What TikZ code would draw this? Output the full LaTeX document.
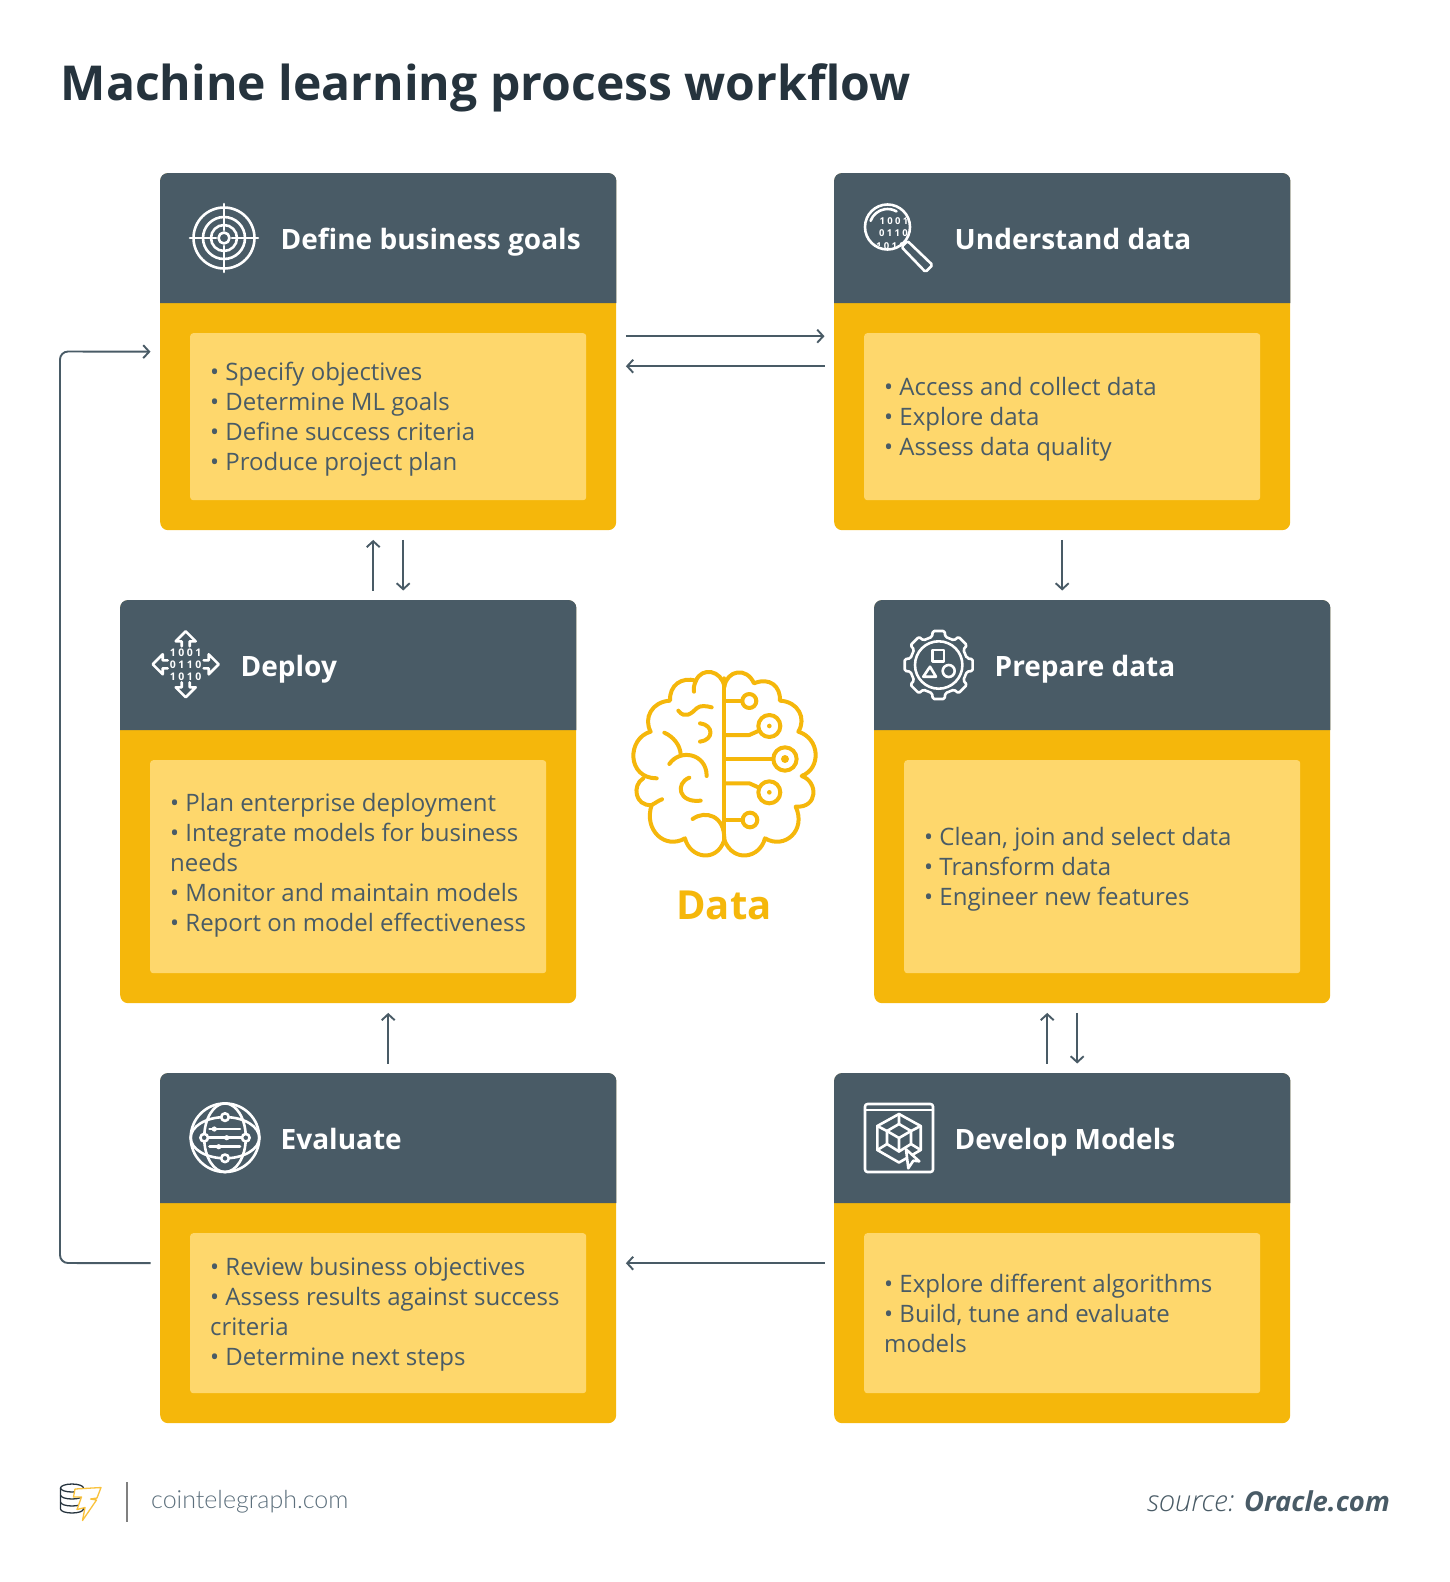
\documentclass[tikz,border=0pt]{standalone}
\usepackage{fontspec}
\usepackage{xcolor}
\usetikzlibrary{arrows.meta}
\setmainfont{Open Sans}
\newfontfamily\footfont{Lato Light}
\newfontfamily\sourcefont{Open Sans Light}
\newfontfamily\bitfont[LetterSpace=24]{Open Sans}
\definecolor{slate}{HTML}{495B66}
\definecolor{ink}{HTML}{25333D}
\definecolor{amber}{HTML}{F5B70B}
\definecolor{butter}{HTML}{FED76C}
\definecolor{foottext}{HTML}{5C6F7C}
\definecolor{boltyellow}{HTML}{F9C23C}
\tikzset{
    cardbox/.style={anchor=north west,fill=amber,rounded corners=8pt,inner sep=0pt,minimum width=456pt},
    headfill/.style={fill=slate,rounded corners=8pt},
    headtext/.style={anchor=base west,text=white,font=\fontsize{28}{34}\selectfont\bfseries,inner sep=0pt},
    panel/.style={anchor=north west,fill=butter,rounded corners=3pt,minimum width=396pt,inner sep=0pt},
    paneltext/.style={anchor=west,text=slate,align=left,inner sep=0pt,font=\fontsize{24}{30}\selectfont},
    flow/.style={draw=slate,line width=1.9pt,-{Straight Barb[length=6pt,width=13pt]},shorten >=9.5pt,shorten <=9.5pt},
    icon/.style={draw=white,line width=2.6pt,line cap=round,line join=round},
    brain/.style={draw=amber,line width=4pt,line cap=round,line join=round},
    bits/.style={text=white,inner sep=0pt,font=\fontsize{10.5}{10.5}\selectfont\bitfont\bfseries}
}
\begin{document}
\begin{tikzpicture}[x=1pt,y=-1pt]
    \useasboundingbox (0,0) rectangle (1450,1582);

    % Title
    \node[anchor=base west,text=ink,inner sep=0pt,font=\fontsize{48.1}{60}\selectfont\bfseries] (title) at (60.5,100) {Machine learning process workflow};

    % Cards
    \node[cardbox,minimum height=357pt] (goals) at (160,173) {};
    \node[cardbox,minimum height=357pt] (understand) at (834,173) {};
    \node[cardbox,minimum height=403pt] (deploy) at (120,600) {};
    \node[cardbox,minimum height=403pt] (prepare) at (874,600) {};
    \node[cardbox,minimum height=350pt] (evaluate) at (160,1073) {};
    \node[cardbox,minimum height=350pt] (develop) at (834,1073) {};

    % Card heads
    \fill[headfill] ([yshift=-130pt]goals.north west) -- (goals.north west) -- (goals.north east) [sharp corners] -- ([yshift=-130pt]goals.north east) -- cycle;
    \fill[headfill] ([yshift=-130pt]understand.north west) -- (understand.north west) -- (understand.north east) [sharp corners] -- ([yshift=-130pt]understand.north east) -- cycle;
    \fill[headfill] ([yshift=-130pt]deploy.north west) -- (deploy.north west) -- (deploy.north east) [sharp corners] -- ([yshift=-130pt]deploy.north east) -- cycle;
    \fill[headfill] ([yshift=-130pt]prepare.north west) -- (prepare.north west) -- (prepare.north east) [sharp corners] -- ([yshift=-130pt]prepare.north east) -- cycle;
    \fill[headfill] ([yshift=-130pt]evaluate.north west) -- (evaluate.north west) -- (evaluate.north east) [sharp corners] -- ([yshift=-130pt]evaluate.north east) -- cycle;
    \fill[headfill] ([yshift=-130pt]develop.north west) -- (develop.north west) -- (develop.north east) [sharp corners] -- ([yshift=-130pt]develop.north east) -- cycle;

    % Head labels
    \node[headtext] (goalshead) at (280.5,249) {Define business goals};
    \node[headtext] (understandhead) at (954.5,249) {Understand data};
    \node[headtext] (deployhead) at (240.5,676) {Deploy};
    \node[headtext] (preparehead) at (994.5,676) {Prepare data};
    \node[headtext] (evaluatehead) at (280.5,1149) {Evaluate};
    \node[headtext] (develophead) at (954.5,1149) {Develop Models};

    % Panels
    \node[panel,minimum height=167pt] (goalspanel) at (190,333) {};
    \node[panel,minimum height=167pt] (understandpanel) at (864,333) {};
    \node[panel,minimum height=213pt] (deploypanel) at (150,760) {};
    \node[panel,minimum height=213pt] (preparepanel) at (904,760) {};
    \node[panel,minimum height=160pt] (evaluatepanel) at (190,1233) {};
    \node[panel,minimum height=160pt] (developpanel) at (864,1233) {};

    % Panel texts
    \node[paneltext,xshift=20pt,yshift=-2pt] (goalstext) at (goalspanel.west) {• Specify objectives\\• Determine ML goals\\• Define success criteria\\• Produce project plan};
    \node[paneltext,xshift=20pt,yshift=-3pt] (understandtext) at (understandpanel.west) {• Access and collect data\\• Explore data\\• Assess data quality};
    \node[paneltext,xshift=20pt,yshift=1pt] (deploytext) at (deploypanel.west) {• Plan enterprise deployment\\• Integrate models for business\\needs\\• Monitor and maintain models\\• Report on model effectiveness};
    \node[paneltext,xshift=20pt,yshift=-3pt] (preparetext) at (preparepanel.west) {• Clean, join and select data\\• Transform data\\• Engineer new features};
    \node[paneltext,xshift=20pt,yshift=-1.5pt] (evaluatetext) at (evaluatepanel.west) {• Review business objectives\\• Assess results against success\\criteria\\• Determine next steps};
    \node[paneltext,xshift=20pt] (developtext) at (developpanel.west) {• Explore different algorithms\\• Build, tune and evaluate\\models};

    % Connectors
    \draw[flow] ([yshift=15.5pt]goals.east) -- ([yshift=15.5pt]goals.east -| understand.west);
    \draw[flow] ([yshift=-14.5pt]understand.west) -- ([yshift=-14.5pt]goals.east);
    \draw[flow] ([xshift=-15pt]goals.south |- deploy.north) -- ([xshift=-15pt]goals.south);
    \draw[flow] ([xshift=15pt]goals.south) -- ([xshift=15pt]goals.south |- deploy.north);
    \draw[flow] (understand.south) -- (understand.south |- prepare.north);
    \draw[flow] (evaluate.north) -- (evaluate.north |- deploy.south);
    \draw[flow] ([xshift=-15pt]develop.north) -- ([xshift=-15pt]develop.north |- prepare.south);
    \draw[flow] ([xshift=15pt]develop.north |- prepare.south) -- ([xshift=15pt]develop.north);
    \draw[flow] ([yshift=-15pt]develop.west) -- ([yshift=-15pt]evaluate.east);
    \coordinate (loopbottom) at (60,1263);
    \coordinate (looptop) at (60,351.5);
    \draw[flow,rounded corners=8pt] ([yshift=-15pt]evaluate.west) -- (loopbottom) -- (looptop) -- (goals.west);

    % Target icon
    \begin{scope}[shift={(224,238)}]
        \draw[icon] (0,0) circle (5.5) (0,0) circle (13) (0,0) circle (21) (0,0) circle (30.5);
        \foreach \a in {0,90,180,270}
            \draw[icon] (\a:8) -- (\a:34);
    \end{scope}

    % Magnifier icon
    \begin{scope}[shift={(887.5,227)}]
        \draw[icon] (0,0) circle (22.5);
        \draw[icon] (200:18) arc (200:300:18);
        \draw[icon,rounded corners=1.5pt] (14,20) -- (20,14) -- (45,38) -- (38,45) -- cycle;
        \clip (0,0) circle (20.5);
        \node[bits,font=\fontsize{9.5}{9.5}\selectfont\bitfont\bfseries] (lensbita) at (6.5,-6) {1001};
        \node[bits,font=\fontsize{9.5}{9.5}\selectfont\bitfont\bfseries] (lensbitb) at (6,6.3) {0110};
        \node[bits,font=\fontsize{9.5}{9.5}\selectfont\bitfont\bfseries] (lensbitc) at (3,18.7) {1010};
    \end{scope}

    % Deploy icon
    \begin{scope}[shift={(185.7,664.3)}]
        \node[bits] (deploybita) at (0,-12) {1001};
        \node[bits] (deploybitb) at (0,0) {0110};
        \node[bits] (deploybitc) at (0,12) {1010};
        \foreach \r in {0,90,180,270}
            \draw[icon,rotate=\r] (-4,-18) -- (-4,-23) -- (-10,-23) -- (0,-33) -- (10,-23) -- (4,-23) -- (4,-18);
    \end{scope}

    % Gear icon
    \begin{scope}[shift={(938.7,665)}]
        \draw[icon,rounded corners=1.5pt] (-13:29) foreach \a in {0,45,...,315} { -- (\a-13:29) -- (\a-10:34.5) -- (\a+10:34.5) -- (\a+13:29) } -- cycle;
        \draw[icon] (0,0) circle (23.7);
        \draw[icon] (-6.5,-15) rectangle (5.3,-3.3);
        \draw[icon] (-8.7,1.7) -- (-2.7,11.7) -- (-15.4,11.7) -- cycle;
        \draw[icon] (10,6) circle (6);
    \end{scope}

    % Globe icon
    \begin{scope}[shift={(225,1137.7)}]
        \draw[icon] (0,0) circle (34.3);
        \draw[icon] (0,0) ellipse (34.3 and 20.6);
        \draw[icon] (0,0) ellipse (20.8 and 34.3);
        \draw[icon] (-15.5,-8.7) -- (15,-8.7);
        \draw[icon] (-20.8,0) -- (20.8,0);
        \draw[icon] (-15.5,9) -- (15,9);
        \fill[white] (-10.7,-8.7) circle (2.6) (1.7,0) circle (2.6) (-6.3,9) circle (2.6);
        \filldraw[icon,fill=slate] (0,-20.6) circle (3.8) (0,20.6) circle (3.8) (-20.8,0) circle (3.8) (20.8,0) circle (3.8);
    \end{scope}

    % Model icon
    \begin{scope}[shift={(899,1138)}]
        \draw[icon,rounded corners=2.5pt] (-34,-34) rectangle (34,34);
        \draw[icon] (-34,-28) -- (34,-28);
        \draw[icon] (0,-24) -- (21.7,-12) -- (21.7,12) -- (0,24.5) -- (-21.7,12) -- (-21.7,-12) -- cycle;
        \draw[icon] (0,-14) -- (12,-7) -- (12,6) -- (0,13.5) -- (-12,6) -- (-12,-7) -- cycle;
        \draw[icon] (-12,-7) -- (0,0) -- (12,-7) (0,0) -- (0,13.5);
        \draw[icon] (0,-24) -- (0,-14) (-21.7,-12) -- (-12,-7) (21.7,-12) -- (12,-7) (-21.7,12) -- (-12,6) (21.7,12) -- (12,6);
        \filldraw[icon,fill=slate] (7,11.3) -- (20.3,23.3) -- (14.3,22.7) -- (9.3,30.3) -- cycle;
    \end{scope}

    % Brain
    \begin{scope}[shift={(610,650)},x=0.3333pt,y=-0.3333pt]
        \draw[brain] (343,85) -- (343,570);
        % Left lobes
        \draw[brain] (343,110) .. controls (335,60) and (275,50) .. (258,92)
            .. controls (215,80) and (178,105) .. (180,152)
            .. controls (125,155) and (100,205) .. (122,245)
            .. controls (50,265) and (50,385) .. (140,385);
        \draw[brain] (100,385) .. controls (65,405) and (75,470) .. (125,465)
            .. controls (135,460) and (145,452) .. (156,448);
        \draw[brain] (125,465) .. controls (100,540) and (165,600) .. (225,565)
            .. controls (240,625) and (320,640) .. (343,570);
        \draw[brain] (258,92) .. controls (252,105) and (250,115) .. (252,125);
        \draw[brain] (248,507) .. controls (285,480) and (345,495) .. (343,570);
        \draw[brain] (205,182) .. controls (225,208) and (245,190) .. (260,175) .. controls (270,165) and (290,168) .. (305,172);
        \draw[brain] (270,220) .. controls (312,225) and (312,270) .. (270,275);
        \draw[brain] (163,248) .. controls (190,260) and (210,285) .. (212,312);
        \draw[brain] (178,342) .. controls (210,295) and (290,310) .. (290,378);
        \draw[brain] (238,383) .. controls (195,400) and (205,460) .. (272,452);
        % Right lobes
        \draw[brain] (343,110) .. controls (351,60) and (410,50) .. (432,100)
            .. controls (480,80) and (512,110) .. (510,152)
            .. controls (565,155) and (590,205) .. (565,245)
            .. controls (630,265) and (635,355) .. (575,378)
            .. controls (625,395) and (625,475) .. (557,470)
            .. controls (590,540) and (525,600) .. (465,565)
            .. controls (450,625) and (370,640) .. (343,570);
        % Circuit lines
        \draw[brain] (343,153) -- (395,153);
        \draw[brain] (343,255) -- (418,255) -- (445,243);
        \draw[brain] (343,327) -- (490,327);
        \draw[brain] (343,400) -- (418,400) -- (445,412);
        \draw[brain] (343,510) -- (398,510);
        \draw[brain] (418,153) circle (21);
        \draw[brain] (478,228) circle (33);
        \draw[brain] (525,327) circle (35);
        \draw[brain] (478,427) circle (33);
        \draw[brain] (420,510) circle (22);
        \fill[amber] (478,228) circle (7) (525,327) circle (12) (478,427) circle (7);
    \end{scope}
    \node[anchor=base,text=amber,inner sep=0pt,font=\fontsize{40}{44}\selectfont\bfseries] (datalabel) at (724,919) {Data};

    % Footer
    \begin{scope}[shift={(72,1488)}]
        \draw[ink,line width=1.3pt] (0,0) ellipse (11.5 and 4);
        \draw[ink,line width=1.3pt] (-11.5,0) -- (-11.5,21) arc (180:0:11.5 and 4) -- (11.5,0);
        \draw[ink,line width=1.3pt] (-11.5,7) arc (180:0:11.5 and 4) (-11.5,14) arc (180:0:11.5 and 4);
    \end{scope}
    \filldraw[draw=boltyellow,fill=white,line width=1.3pt,line join=round] (75,1489) -- (101,1487.5) -- (97,1498) -- (90.5,1499) -- (96.5,1500) -- (82.5,1520.5) -- (85,1507.5) -- (77,1509.5) -- (81.5,1497) -- (73.5,1497) -- cycle;
    \draw[gray,line width=2pt] (127,1482) -- (127,1522);
    \node[anchor=base west,text=foottext,inner sep=0pt,font=\fontsize{25}{30}\selectfont\footfont] (sitelabel) at (151,1508) {cointelegraph.com};
    \node[anchor=base east,text=slate,inner sep=0pt,font=\fontsize{27.4}{32}\selectfont] (sourcelabel) at (1390,1511.5) {{\fontsize{29.3}{32}\selectfont\sourcefont\itshape source:} \textbf{\textit{Oracle.com}}};
\end{tikzpicture}
\end{document}
